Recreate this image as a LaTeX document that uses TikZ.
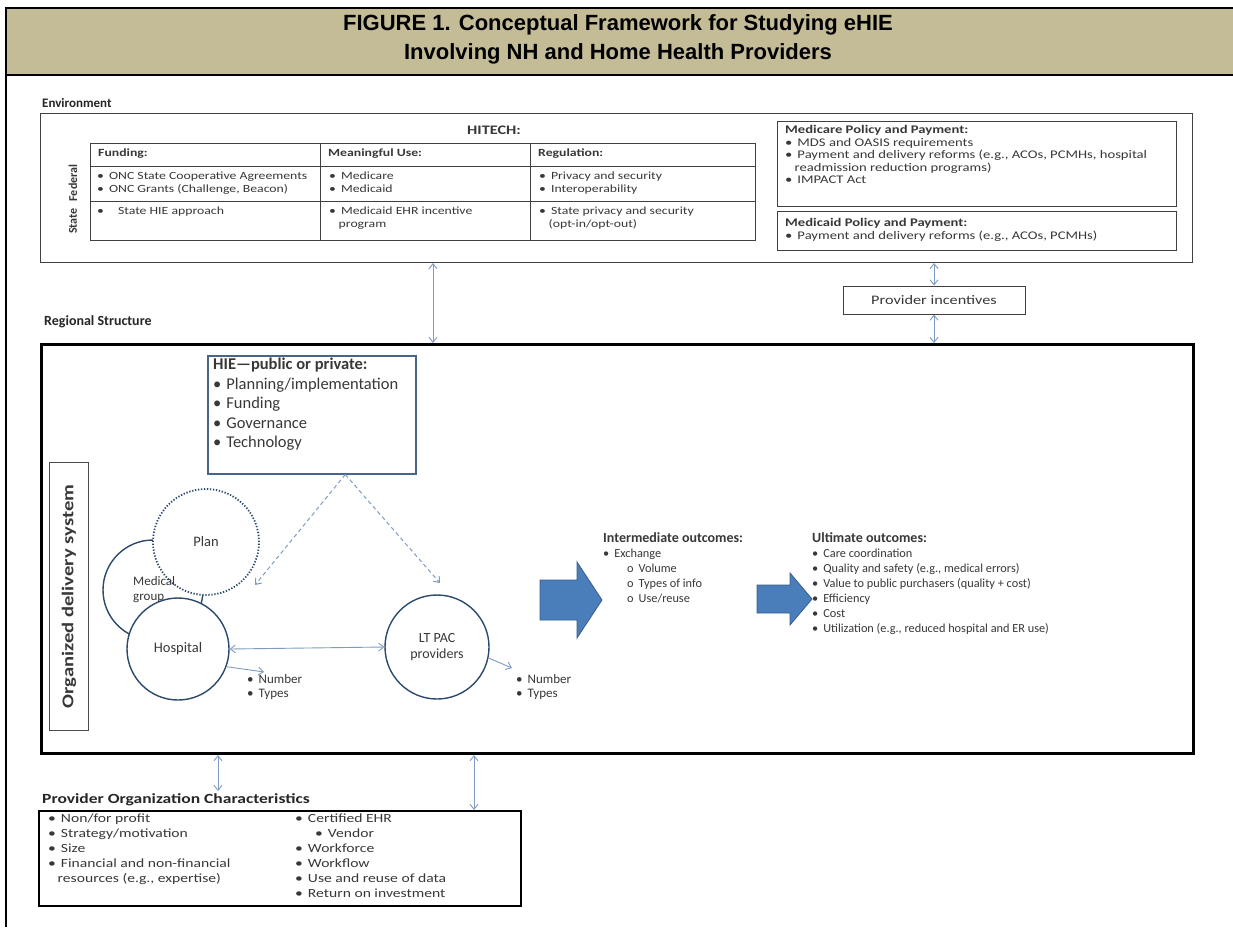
\documentclass[tikz,border=0pt]{standalone}
\usepackage{fontspec}
\setmainfont{Carlito}
\newfontfamily\arialfont{Liberation Sans}
\newfontfamily\wfont[FakeStretch=1.25]{Carlito}
\usetikzlibrary{arrows.meta,calc}
\definecolor{tanband}{HTML}{C4BC96}
\definecolor{lblue}{HTML}{7E9CC2}
\definecolor{navy}{HTML}{2C4A6E}
\definecolor{hiebd}{HTML}{4A6489}
\definecolor{bigblue}{HTML}{4A7EBB}
\definecolor{txt}{HTML}{383838}
\newcommand{\itm}[1]{\textbullet\hspace{5pt}#1}
\newcommand{\hng}{\hspace*{9.5pt}}
\tikzset{
  box/.style={draw=black!75, line width=1pt, inner sep=0pt, anchor=north west},
  txtnode/.style={anchor=north west, inner sep=0pt, align=left, text=txt},
  lbl/.style={anchor=west, inner sep=0pt, text=black!85, font=\bfseries\fontsize{13}{15}\selectfont},
  dblarrow/.style={lblue, line width=0.9pt, {Straight Barb[length=5pt,width=8pt]}-{Straight Barb[length=5pt,width=8pt]}},
  onearrow/.style={lblue, line width=0.9pt, -{Straight Barb[length=5pt,width=8pt]}},
  dasharrow/.style={lblue, line width=1pt, dash pattern=on 4pt off 3pt, -{Straight Barb[length=5pt,width=8pt]}},
  circ/.style={circle, draw=navy, line width=1.4pt, fill=white, inner sep=0pt, text=txt, align=center},
  bigarrow/.style={fill=bigblue, draw=bigblue!75!black, line width=0.8pt, line join=miter}
}
\begin{document}
\begin{tikzpicture}[x=1pt,y=-1pt]
\useasboundingbox (0,0) rectangle (1233,927);
\fill[white] (0,0) rectangle (1233,927);
% title band
\fill[tanband] (6,8) rectangle (1240,75);
\draw[line width=1.5pt] (1240,8) -- (6,8) -- (6,927);
\draw[line width=2pt] (6,75) -- (1240,75);
\node[align=center, font=\arialfont\bfseries\fontsize{22}{29}\selectfont] (title) at (618,39)
  {FIGURE 1. Conceptual Framework for Studying eHIE\\Involving NH and Home Health Providers};

% Environment
\node[lbl] (envlbl) at (42,103) {Environment};
\node[box, minimum width=1152pt, minimum height=149pt] (env) at (40,113) {};
\node[font=\wfont\bfseries\fontsize{13}{15}\selectfont, text=txt] (hitech) at (494,130) {HITECH:};
% table
\node[box, minimum width=665pt, minimum height=97pt] (tbl) at (90,143) {};
\draw[black!75, line width=1pt] (90,166) -- (755,166) (90,201) -- (755,201)
  (320,143) -- (320,240) (530,143) -- (530,240);
\node[rotate=90, font=\bfseries\fontsize{12}{13}\selectfont, text=txt] (fed) at (73,183) {Federal};
\node[rotate=90, font=\bfseries\fontsize{12}{13}\selectfont, text=txt] (st) at (73,221) {State};
\begin{scope}[every node/.style={txtnode, font=\wfont\fontsize{11}{12.5}\selectfont}]
\node (h1) at (98,149) {\textbf{Funding:}};
\node (h2) at (328,149) {\textbf{Meaningful Use:}};
\node (h3) at (538,149) {\textbf{Regulation:}};
\node (f1) at (97,172) {\itm{ONC State Cooperative Agreements}\\\itm{ONC Grants (Challenge, Beacon)}};
\node (f2) at (329,172) {\itm{Medicare}\\\itm{Medicaid}};
\node (f3) at (539,172) {\itm{Privacy and security}\\\itm{Interoperability}};
\node (s1) at (97,207) {\textbullet\hspace{14pt}State HIE approach};
\node (s2) at (329,207) {\itm{Medicaid EHR incentive}\\\hng program};
\node (s3) at (539,207) {\itm{State privacy and security}\\\hng (opt-in/opt-out)};
\end{scope}
% Medicare / Medicaid
\node[box, line width=1.4pt, minimum width=399pt, minimum height=85pt] (medicare) at (777,121) {};
\node[box, line width=1.4pt, minimum width=399pt, minimum height=39pt] (medicaid) at (777,211) {};
\node[txtnode, font=\wfont\fontsize{11.7}{12.6}\selectfont] (medtxt) at (785,125)
  {\textbf{Medicare Policy and Payment:}\\\itm{MDS and OASIS requirements}\\
   \itm{Payment and delivery reforms (e.g., ACOs, PCMHs, hospital}\\\hng readmission reduction programs)\\
   \itm{IMPACT Act}};
\node[txtnode, font=\wfont\fontsize{11.7}{12.6}\selectfont] (mcdtxt) at (785,218)
  {\textbf{Medicaid Policy and Payment:}\\\itm{Payment and delivery reforms (e.g., ACOs, PCMHs)}};

% Provider incentives
\node[draw=black!75, line width=1pt, minimum width=182pt, minimum height=28pt, text=txt,
  font=\wfont\fontsize{13}{14}\selectfont] (pinc) at (934,300) {Provider incentives};

% Regional structure
\node[lbl, font=\bfseries\fontsize{14}{16}\selectfont] (reglbl) at (44,322) {Regional Structure};
\node[box, draw=black, line width=3pt, minimum width=1152pt, minimum height=409pt] (reg) at (40,343) {};

\coordinate (ax1) at (433,0);
\coordinate (ax2) at (934,0);
\draw[dblarrow] (env.south -| ax1) -- (reg.north -| ax1);
\draw[dblarrow] (env.south -| ax2) -- (pinc.north);
\draw[dblarrow] (pinc.south) -- (reg.north -| ax2);

% HIE box
\node[box, draw=hiebd, line width=1.5pt, minimum width=208pt, minimum height=118pt] (hie) at (207,355) {};
\node[txtnode, font=\fontsize{16.5}{19.5}\selectfont] (hietxt) at (213,358)
  {\textbf{HIE---public or private:}\\\itm{Planning/implementation}\\\itm{Funding}\\\itm{Governance}\\\itm{Technology}};

% organized delivery system
\node[box, draw=black!70, minimum width=39pt, minimum height=268pt] (org) at (49,462) {};
\node[rotate=90, font=\wfont\bfseries\fontsize{16.5}{19}\selectfont, text=txt] (orgtxt) at (org.center) {Organized delivery system};

% circles
\node[circle, draw=navy, line width=1.4pt, minimum size=100pt, inner sep=0pt] (medgrp) at (153,590) {};
\node[circ, draw=navy, dash pattern=on 1.3pt off 1.7pt, line width=1.8pt, minimum size=106pt,
  font=\fontsize{14.5}{16}\selectfont] (plan) at (206,542) {Plan};
\node[circ, minimum size=102pt, font=\fontsize{14.5}{16}\selectfont] (hosp) at (178,649) {Hospital};
\node[txtnode, font=\fontsize{13}{15}\selectfont] (medtx) at (133,576) {Medical\\group};
\node[circ, minimum size=104pt, font=\fontsize{14}{15.5}\selectfont] (ltpac) at (437,647) {LT PAC\\providers};
\draw[dblarrow] (hosp.east) -- (ltpac.west);

\coordinate (hn) at (264,672);
\coordinate (ln) at (512,668);
\draw[onearrow] (hosp.-20) -- (hn);
\draw[onearrow] (ltpac.-12) -- (ln);
\node[txtnode, font=\fontsize{13}{14.5}\selectfont] (hnum) at (247,674) {\itm{Number}\\\itm{Types}};
\node[txtnode, font=\fontsize{13}{14.5}\selectfont] (lnum) at (516,674) {\itm{Number}\\\itm{Types}};

% dashed arrows
\coordinate (hs) at ($(hie.south west)!0.66!(hie.south east)$);
\coordinate (dh) at (255,585);
\coordinate (dl) at (440,583);
\draw[dasharrow] (hs) -- (dh);
\draw[dasharrow] (hs) -- (dl);

% outcomes
\node[txtnode, font=\fontsize{12.3}{15}\selectfont] (inter) at (603,532)
  {{\bfseries\fontsize{14}{15}\selectfont Intermediate outcomes:}\\\itm{Exchange}\\
   \hspace*{24pt}o\hspace{5pt}Volume\\\hspace*{24pt}o\hspace{5pt}Types of info\\\hspace*{24pt}o\hspace{5pt}Use/reuse};
\node[txtnode, font=\fontsize{12.3}{15}\selectfont] (ult) at (812,532)
  {{\bfseries\fontsize{14}{15}\selectfont Ultimate outcomes:}\\\itm{Care coordination}\\
   \itm{Quality and safety (e.g., medical errors)}\\\itm{Value to public purchasers (quality + cost)}\\
   \itm{Efficiency}\\\itm{Cost}\\\itm{Utilization (e.g., reduced hospital and ER use)}};
\path[bigarrow] (540,580) -- (577,580) -- (577,562) -- (602,600) -- (577,638) -- (577,620) -- (540,620) -- cycle;
\coordinate (big1) at (571,600);
\path[bigarrow] (757,585) -- (790,585) -- (790,573) -- (812,599) -- (790,625) -- (790,613) -- (757,613) -- cycle;
\coordinate (big2) at (784,599);

% provider organization characteristics
\node[lbl, font=\wfont\bfseries\fontsize{14}{16}\selectfont] (povlbl) at (42,800) {Provider Organization Characteristics};
\node[box, draw=black, line width=2pt, minimum width=482pt, minimum height=95pt] (prov) at (38,810) {};
\coordinate (bx1) at (218,0);
\coordinate (bx2) at (474,0);
\draw[dblarrow] (reg.south -| bx1) -- (218,791);
\draw[dblarrow] (reg.south -| bx2) -- (prov.north -| bx2);
\node[txtnode, font=\wfont\fontsize{12.5}{15}\selectfont] (pl) at (48,814)
  {\itm{Non/for profit}\\\itm{Strategy/motivation}\\\itm{Size}\\\itm{Financial and non-financial}\\\hng resources (e.g., expertise)};
\node[txtnode, font=\wfont\fontsize{12.5}{15}\selectfont] (pr) at (295,814)
  {\itm{Certified EHR}\\\hspace*{20pt}\itm{Vendor}\\\itm{Workforce}\\\itm{Workflow}\\\itm{Use and reuse of data}\\\itm{Return on investment}};
\end{tikzpicture}
\end{document}
